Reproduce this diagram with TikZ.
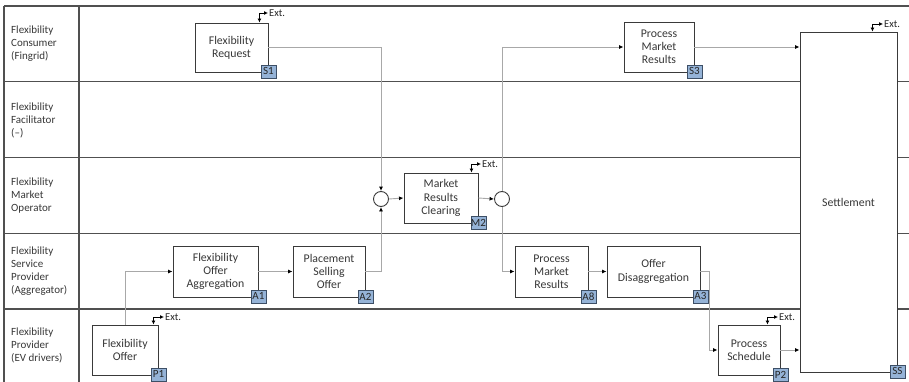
\documentclass[tikz,border=0pt]{standalone}
\usepackage{fontspec}
\setmainfont{Carlito}
\usetikzlibrary{arrows.meta}

\definecolor{lanegray}{HTML}{505050}
\definecolor{boxgray}{HTML}{3A3A3A}
\definecolor{flowgray}{HTML}{A8A8A8}
\definecolor{txtgray}{HTML}{383838}
\definecolor{badgefill}{HTML}{95B3D7}
\definecolor{badgeline}{HTML}{3D4F66}

\tikzset{
  laneline/.style={draw=lanegray, line width=1.2pt},
  lanelabel/.style={anchor=west, align=left, text=txtgray, inner sep=0pt,
    font=\fontsize{11}{13}\selectfont},
  proc/.style={draw=boxgray, line width=0.9pt, fill=white, align=center,
    text=txtgray, inner sep=0pt, font=\fontsize{11.8}{13.2}\selectfont},
  badge/.style={draw=badgeline, line width=0.7pt, fill=badgefill, text=black!85,
    inner sep=0pt, minimum width=15pt, minimum height=13pt,
    font=\fontsize{11}{12}\selectfont},
  junction/.style={circle, draw=boxgray, line width=0.9pt, fill=white,
    minimum size=15pt, inner sep=0pt},
  flow/.style={draw=flowgray, line width=0.9pt,
    -{Latex[length=4.5pt,width=4pt,color=black]}},
  extlink/.style={draw=black, line width=0.8pt,
    {Latex[length=4pt,width=4pt]}-{Latex[length=4pt,width=4pt]}},
  exttext/.style={anchor=west, inner sep=1pt, text=black!85,
    font=\fontsize{10.5}{12}\selectfont},
}

\begin{document}
\begin{tikzpicture}[x=1pt,y=-1pt]
\useasboundingbox (0,0) rectangle (909,382);
\fill[white] (0,0) rectangle (909,382);

% swimlane grid
\foreach \yy in {6,81.5,157.5,233.5,309}
  \draw[laneline] (4,\yy) -- (909,\yy);
\draw[laneline] (4,6) -- (4,382);
\draw[laneline] (79,6) -- (79,382);

% lane titles
\node[lanelabel] (l1) at (11,44) {Flexibility\\Consumer\\(Fingrid)};
\node[lanelabel] (l2) at (11,120) {Flexibility\\Facilitator\\(--)};
\node[lanelabel] (l3) at (11,196) {Flexibility\\Market\\Operator};
\node[lanelabel] (l4) at (11,271.5) {Flexibility\\Service\\Provider\\(Aggregator)};
\node[lanelabel] (l5) at (11,345) {Flexibility\\Provider\\(EV drivers)};

% process steps
\node[proc, minimum width=73pt, minimum height=49pt] (s1) at (231.5,47.5) {Flexibility\\Request};
\node[proc, minimum width=70pt, minimum height=50pt] (s3) at (659,47) {Process\\Market\\Results};
\node[proc, minimum width=74pt, minimum height=50pt] (m2) at (441,198) {Market\\Results\\Clearing};
\node[proc, minimum width=85pt, minimum height=51pt] (a1) at (215.5,271.5) {Flexibility\\Offer\\Aggregation};
\node[proc, minimum width=72pt, minimum height=51pt] (a2) at (329,271.5) {Placement\\Selling\\Offer};
\node[proc, minimum width=73pt, minimum height=51pt] (a8) at (551.5,271.5) {Process\\Market\\Results};
\node[proc, minimum width=93pt, minimum height=51pt] (a3) at (653.5,271.5) {Offer\\Disaggregation};
\node[proc, minimum width=66pt, minimum height=50pt] (p1) at (125,350) {Flexibility\\Offer};
\node[proc, minimum width=62pt, minimum height=50pt] (p2) at (749,350) {Process\\Schedule};
\node[proc, minimum width=97pt, minimum height=340pt] (ss) at (848.5,202) {Settlement};

% gateways
\node[junction] (cl) at (381,199) {};
\node[junction] (cr) at (502,199) {};

% step identifiers
\foreach \b/\t in {s1/S1,s3/S3,m2/M2,a1/A1,a2/A2,a8/A8,a3/A3,p1/P1,p2/P2,ss/SS}
  \node[badge] (\b-id) at ([yshift=1pt]\b.south east) {\t};

% flows
\draw[flow] (p1.north) |- (a1.west);
\draw[flow] (a1.east) -- (a2.west);
\draw[flow] (a2.east) -| (cl.south);
\draw[flow] (s1.east) -| (cl.north);
\draw[flow] (cl.east) -- (m2.west);
\draw[flow] (m2.east) -- (cr.west);
\draw[flow] (cr.north) |- (s3.west);
\draw[flow] (cr.south) |- (a8.west);
\draw[flow] (a8.east) -- (a3.west);
\draw[flow] (a3.east) -- ++(9,0) |- (p2.west);
\draw[flow] (p2.east) -- (p2.east -| ss.west);
\draw[flow] (s3.east) -- (s3.east -| ss.west);

% external exchanges
\node[exttext] (s1x) at (268,13) {Ext.};
\draw[extlink] (s1x.west) -| ([xshift=-9pt]s1.north east);
\node[exttext] (m2x) at (481,164) {Ext.};
\draw[extlink] (m2x.west) -| ([xshift=-7pt]m2.north east);
\node[exttext] (p1x) at (164,317) {Ext.};
\draw[extlink] (p1x.west) -| ([xshift=-5pt]p1.north east);
\node[exttext] (p2x) at (778,317) {Ext.};
\draw[extlink] (p2x.west) -| ([xshift=-13pt]p2.north east);
\node[exttext] (ssx) at (883,24) {Ext.};
\draw[extlink] (ssx.west) -| ([xshift=-25pt]ss.north east);
\end{tikzpicture}
\end{document}
